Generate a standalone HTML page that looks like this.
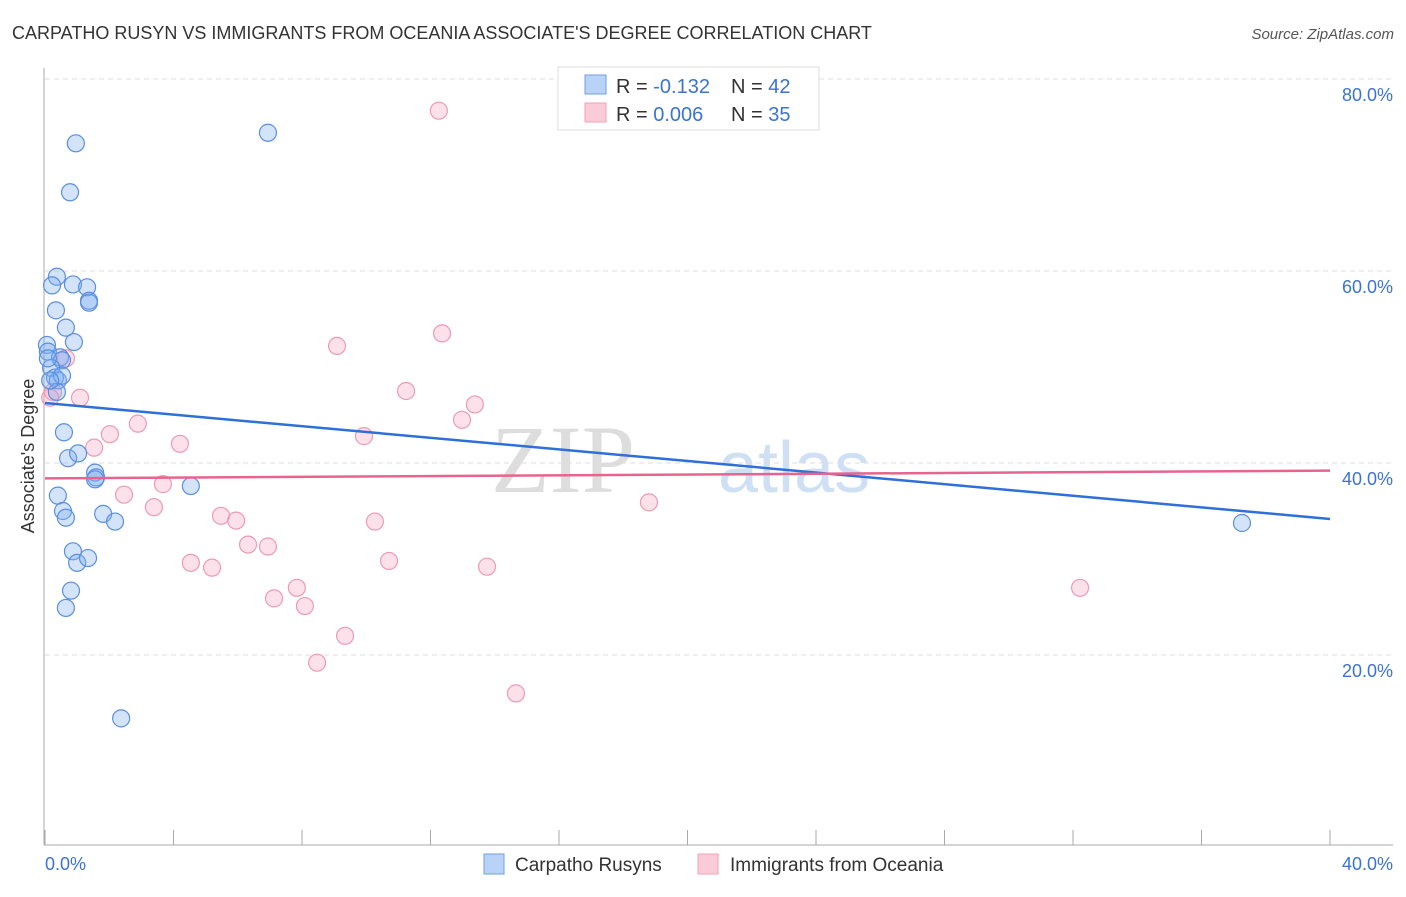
<!DOCTYPE html>
<html><head><meta charset="utf-8"><style>
body{margin:0;background:#fff;font-family:"Liberation Sans",sans-serif;}
svg text{font-family:"Liberation Sans",sans-serif;}
</style></head><body>
<svg width="1406" height="892" viewBox="0 0 1406 892">
<text x="12" y="39" font-size="18" fill="#333">CARPATHO RUSYN VS IMMIGRANTS FROM OCEANIA ASSOCIATE'S DEGREE CORRELATION CHART</text>
<text x="1394" y="39" font-size="15" fill="#555" font-style="italic" text-anchor="end">Source: ZipAtlas.com</text>
<text x="635" y="492" font-size="96" fill="#ddd" text-anchor="end" font-family="Liberation Serif" style="font-family:'Liberation Serif',serif">ZIP</text>
<text x="718" y="492" font-size="72" fill="#cfe0f5">atlas</text>
<g id="grid"></g>
<g id="axes"></g>
<g id="pts"></g>
<g id="trend"></g>
<text transform="translate(34,456) rotate(-90)" font-size="18" fill="#333" text-anchor="middle">Associate's Degree</text>
<g>
<rect x="558" y="67" width="261" height="63" fill="#fff" stroke="#ddd"/>
<rect x="585" y="75" width="21" height="19" fill="#b9d3f7" stroke="#6f9fe3"/>
<rect x="585" y="103" width="21" height="19" fill="#fbcbd8" stroke="#f0a2b9"/>
<text x="616" y="93" font-size="20" fill="#333">R = <tspan fill="#3b73d1">-0.132</tspan><tspan x="731">N = </tspan><tspan fill="#3b73d1">42</tspan></text>
<text x="616" y="121" font-size="20" fill="#333">R = <tspan fill="#3b73d1">0.006</tspan><tspan x="731">N = </tspan><tspan fill="#3b73d1">35</tspan></text>
</g>
<g>
<rect x="484" y="854" width="20" height="20" fill="#b9d3f7" stroke="#6f9fe3"/>
<text x="515" y="871" font-size="19" fill="#333">Carpatho Rusyns</text>
<rect x="698" y="854" width="20" height="20" fill="#fbcbd8" stroke="#f0a2b9"/>
<text x="730" y="871" font-size="19" fill="#333">Immigrants from Oceania</text>
</g>
</svg>
<script>
const yTicks=[20,40,60,80];
const xTickVals=[0,4,8,12,16,20,24,28,32,36,40];
const blueX=[0.96,0.78,6.94,0.37,0.22,0.87,1.31,1.37,1.37,0.34,0.65,0.90,0.06,0.09,0.47,0.53,0.19,0.31,0.40,0.37,0.59,0.72,1.03,1.56,1.59,1.56,4.54,0.40,0.56,0.65,1.81,2.18,0.87,1.00,1.34,0.81,0.65,2.37,37.26,0.09,0.53,0.16];
const blueY=[73.3,68.2,74.4,59.4,58.5,58.6,58.3,56.9,56.7,55.9,54.1,52.6,52.3,51.6,51.0,50.7,49.9,48.9,48.6,47.4,43.2,40.5,41.0,39.0,38.5,38.3,37.6,36.6,35.0,34.3,34.7,33.9,30.8,29.6,30.1,26.7,24.9,13.4,33.75,50.9,49.1,48.6];
const pinkX=[12.26,0.25,0.65,1.09,2.02,2.89,4.20,1.53,2.46,3.39,3.67,4.54,5.20,5.48,5.95,6.32,6.94,7.13,7.84,8.09,8.47,9.34,9.09,9.93,10.27,10.71,11.24,12.36,12.98,13.38,13.76,14.66,18.80,32.22,0.16];
const pinkY=[76.7,47.4,50.9,46.8,43.0,44.1,42.0,41.6,36.7,35.4,37.8,29.6,29.1,34.5,34.0,31.5,31.3,25.9,27.0,25.1,19.2,22.0,52.2,42.8,33.9,29.8,47.5,53.5,44.5,46.1,29.2,16.0,35.9,27.0,46.8];
const blueTrend=[46.25,34.17];
const pinkTrend=[38.4,39.2];
const NS='http://www.w3.org/2000/svg';
const X=v=>45+v/40*1285, Y=v=>847-v*9.6;
function mk(t,a,p){const e=document.createElementNS(NS,t);for(const k in a)e.setAttribute(k,a[k]);p.appendChild(e);return e;}
const grid=document.getElementById('grid'),axes=document.getElementById('axes'),pts=document.getElementById('pts'),tr=document.getElementById('trend');
yTicks.forEach(t=>{
 const l=mk('line',{x1:45,x2:1393,y1:Y(t),y2:Y(t),stroke:'#ddd','stroke-dasharray':'5,4'},grid);
 
 
 const tx=mk('text',{x:1393,y:Y(t)+22,'font-size':18,fill:'#3b73d1','text-anchor':'end'},axes);
 tx.textContent=t.toFixed(1)+'%';
 
 
});
mk('line',{x1:44,x2:44,y1:68,y2:845,stroke:'#aaa'},axes);
mk('line',{x1:44,x2:1393,y1:845,y2:845,stroke:'#aaa'},axes);
xTickVals.forEach(t=>{
 const l=mk('line',{x1:X(t),x2:X(t),y1:830,y2:845,stroke:'#aaa'},axes);
 
 
});
const xl0=mk('text',{x:45,y:870,'font-size':18,fill:'#3b73d1'},axes);xl0.textContent='0.0%';


const xl1=mk('text',{x:1393,y:870,'font-size':18,fill:'#3b73d1','text-anchor':'end'},axes);xl1.textContent='40.0%';


pinkX.forEach((x,i)=>{
 const c=mk('circle',{cx:X(x),cy:Y(pinkY[i]),r:8.5,fill:'rgba(247,170,195,0.35)',stroke:'#ee9ab3','stroke-width':1.2},pts);
 
 
});
blueX.forEach((x,i)=>{
 const c=mk('circle',{cx:X(x),cy:Y(blueY[i]),r:8.5,fill:'rgba(130,175,240,0.35)',stroke:'#5a8fe0','stroke-width':1.2},pts);
 
 
});
const b=mk('line',{x1:X(0),x2:X(40),y1:Y(blueTrend[0]),y2:Y(blueTrend[1]),stroke:'#2e6fd8','stroke-width':2.5},tr);


const p=mk('line',{x1:X(0),x2:X(40),y1:Y(pinkTrend[0]),y2:Y(pinkTrend[1]),stroke:'#e8648e','stroke-width':2.5},tr);


</script>
</body></html>
